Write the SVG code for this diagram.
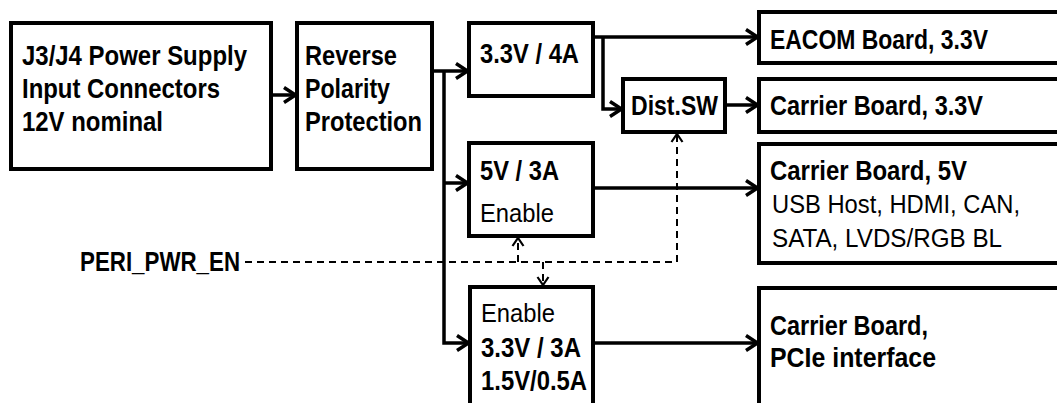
<svg xmlns="http://www.w3.org/2000/svg" width="1057" height="403" viewBox="0 0 1057 403">
<style>
.box{fill:#fff;stroke:#000;stroke-width:4}
.b{font-family:"Liberation Sans",Arial,sans-serif;font-weight:bold;font-size:28px;fill:#000}
.r{font-family:"Liberation Sans",Arial,sans-serif;font-size:26px;fill:#000}
.c{fill:none;stroke:#000;stroke-width:3.5}
.d{fill:none;stroke:#000;stroke-width:2;stroke-dasharray:7 5}
</style>
<defs>
<marker id="ah" markerUnits="userSpaceOnUse" markerWidth="24" markerHeight="24" viewBox="-18 -12 24 24" refX="0" refY="0" orient="auto" overflow="visible">
<path d="M-13,-7.5 L-1.5,0 L-13,7.5" fill="none" stroke="#000" stroke-width="3.5"/>
</marker>
<marker id="dh" markerUnits="userSpaceOnUse" markerWidth="16" markerHeight="16" viewBox="-12 -8 16 16" refX="0" refY="0" orient="auto" overflow="visible">
<path d="M-9,-5.5 L-1,0 L-9,5.5" fill="none" stroke="#000" stroke-width="2.2"/>
</marker>
</defs>
<rect width="1057" height="403" fill="#fff"/>
<g id="connectors">
<path class="c" d="M271,95 H297" marker-end="url(#ah)"/>
<path class="c" d="M432,71 H469" marker-end="url(#ah)"/>
<path class="c" d="M444,71 V343 H470" marker-end="url(#ah)"/>
<path class="c" d="M444,183 H469" marker-end="url(#ah)"/>
<path class="c" d="M593,37 H759" marker-end="url(#ah)"/>
<path class="c" d="M603,37 V109 H623" marker-end="url(#ah)"/>
<path class="c" d="M725,105 H759" marker-end="url(#ah)"/>
<path class="c" d="M593,188 H759" marker-end="url(#ah)"/>
<path class="c" d="M593,343 H759" marker-end="url(#ah)"/>
<path class="d" d="M245,262 H677 V133" marker-end="url(#dh)"/>
<path class="d" d="M518,262 V237" marker-end="url(#dh)"/>
<path class="d" d="M543,262 V286" marker-end="url(#dh)"/>
</g>
<g id="input">
<rect class="box" x="11" y="23" width="260" height="146"/>
<text class="b" x="22" y="65" textLength="225" lengthAdjust="spacingAndGlyphs">J3/J4 Power Supply</text>
<text class="b" x="22" y="98" textLength="198" lengthAdjust="spacingAndGlyphs">Input Connectors</text>
<text class="b" x="22" y="131" textLength="141" lengthAdjust="spacingAndGlyphs">12V nominal</text>
</g>
<g id="reverse">
<rect class="box" x="297" y="23" width="135" height="146"/>
<text class="b" x="305" y="65" textLength="92" lengthAdjust="spacingAndGlyphs">Reverse</text>
<text class="b" x="305" y="98" textLength="85" lengthAdjust="spacingAndGlyphs">Polarity</text>
<text class="b" x="305" y="131" textLength="117" lengthAdjust="spacingAndGlyphs">Protection</text>
</g>
<g id="reg33">
<rect class="box" x="469" y="23" width="124" height="73"/>
<text class="b" x="480" y="63" textLength="99" lengthAdjust="spacingAndGlyphs">3.3V / 4A</text>
</g>
<g id="reg5">
<rect class="box" x="469" y="143" width="124" height="93"/>
<text class="b" x="480" y="180" textLength="79" lengthAdjust="spacingAndGlyphs">5V / 3A</text>
<text class="r" x="480" y="222" textLength="74" lengthAdjust="spacingAndGlyphs">Enable</text>
</g>
<g id="regpcie">
<rect class="box" x="470" y="287" width="123" height="140"/>
<text class="r" x="481" y="322" textLength="74" lengthAdjust="spacingAndGlyphs">Enable</text>
<text class="b" x="481" y="357" textLength="100" lengthAdjust="spacingAndGlyphs">3.3V / 3A</text>
<text class="b" x="481" y="390" textLength="106" lengthAdjust="spacingAndGlyphs">1.5V/0.5A</text>
</g>
<g id="distsw">
<rect class="box" x="623" y="79" width="102" height="53"/>
<text class="b" x="631" y="115" textLength="87" lengthAdjust="spacingAndGlyphs">Dist.SW</text>
</g>
<g id="eacom">
<rect class="box" x="759" y="12" width="320" height="51"/>
<text class="b" x="770" y="49" textLength="218" lengthAdjust="spacingAndGlyphs">EACOM Board, 3.3V</text>
</g>
<g id="carrier33">
<rect class="box" x="759" y="79" width="320" height="53"/>
<text class="b" x="770" y="115" textLength="213" lengthAdjust="spacingAndGlyphs">Carrier Board, 3.3V</text>
</g>
<g id="carrier5">
<rect class="box" x="759" y="144" width="320" height="119"/>
<text class="b" x="770" y="180" textLength="197" lengthAdjust="spacingAndGlyphs">Carrier Board, 5V</text>
<text class="r" x="772" y="213" textLength="248" lengthAdjust="spacingAndGlyphs">USB Host, HDMI, CAN,</text>
<text class="r" x="772" y="247" textLength="230" lengthAdjust="spacingAndGlyphs">SATA, LVDS/RGB BL</text>
</g>
<g id="carrierpcie">
<rect class="box" x="759" y="288" width="320" height="140"/>
<text class="b" x="770" y="335" textLength="158" lengthAdjust="spacingAndGlyphs">Carrier Board,</text>
<text class="b" x="770" y="367" textLength="166" lengthAdjust="spacingAndGlyphs">PCIe interface</text>
</g>
<g id="peri">
<text class="b" x="80" y="271" textLength="160" lengthAdjust="spacingAndGlyphs">PERI_PWR_EN</text>
</g>
</svg>
